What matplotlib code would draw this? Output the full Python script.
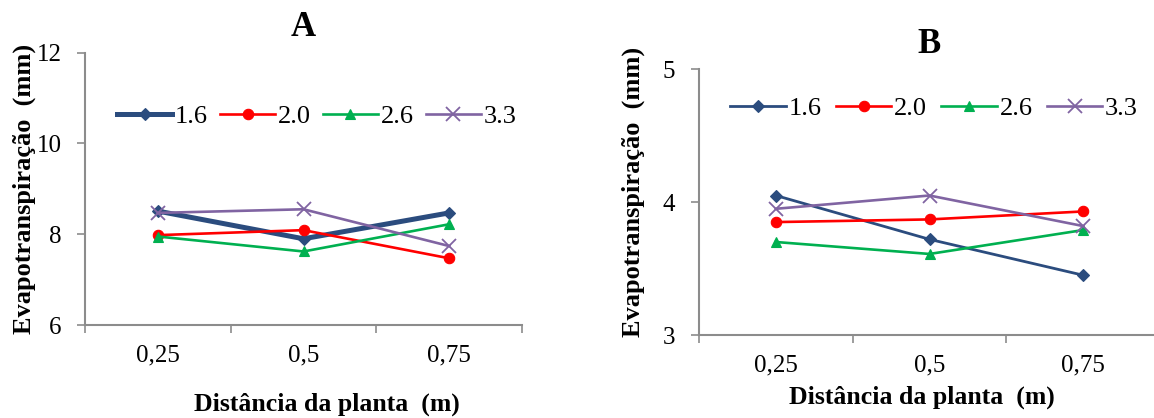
import matplotlib
matplotlib.use("Agg")
import matplotlib.pyplot as plt

plt.rcParams["font.family"] = ["Liberation Serif", "DejaVu Serif"]

distances = ["0,25", "0,5", "0,75"]
series_names = ["1.6", "2.0", "2.6", "3.3"]

# Painel A
et_a = {
    "1.6": [8.51, 7.90, 8.47],
    "2.0": [7.98, 8.09, 7.47],
    "2.6": [7.95, 7.62, 8.22],
    "3.3": [8.47, 8.55, 7.74],
}
# Painel B
et_b = {
    "1.6": [4.05, 3.72, 3.45],
    "2.0": [3.85, 3.87, 3.93],
    "2.6": [3.70, 3.61, 3.79],
    "3.3": [3.95, 4.05, 3.82],
}

colors = {"1.6": "#2B4C7E", "2.0": "#FF0000", "2.6": "#00B050", "3.3": "#8064A2"}
markers = {"1.6": "D", "2.0": "o", "2.6": "^", "3.3": "x"}
msizes = {"1.6": 6, "2.0": 7.5, "2.6": 7.5, "3.3": 10}
AXIS_GRAY = "#8C8C8C"

W, H = 1154, 418


def px_axes(fig, left, bottom, right, top):
    """Axes a partir de coordenadas em pixels (origem no canto superior esquerdo)."""
    return fig.add_axes([left / W, 1 - bottom / H, (right - left) / W, (bottom - top) / H])


def draw_panel(ax, data, yticks, title, blue_lw):
    x = list(range(len(distances)))
    for name in series_names:
        lw = blue_lw if name == "1.6" else 1.9
        ax.plot(x, data[name], color=colors[name], marker=markers[name],
                markersize=msizes[name], linewidth=lw,
                markeredgewidth=1.3 if name == "3.3" else 0.8,
                label=name, clip_on=False)

    ax.set_xlim(-0.5, len(distances) - 0.5)
    ax.set_ylim(yticks[0], yticks[-1])
    ax.set_yticks(yticks)
    ax.set_yticklabels([str(t) for t in yticks])

    # ticks nas fronteiras das categorias, rótulos no centro
    ax.set_xticks([i - 0.5 for i in range(len(distances) + 1)])
    ax.set_xticklabels([])
    ax.set_xticks(x, minor=True)
    ax.set_xticklabels(distances, minor=True)
    ax.tick_params(axis="x", which="major", direction="out", length=6,
                   width=1.2, color=AXIS_GRAY)
    ax.tick_params(axis="x", which="minor", length=0, pad=14, labelsize=18)
    ax.tick_params(axis="y", direction="out", length=6, width=1.2,
                   color=AXIS_GRAY, labelsize=18, pad=11)

    for side in ("top", "right"):
        ax.spines[side].set_visible(False)
    for side in ("left", "bottom"):
        ax.spines[side].set_color(AXIS_GRAY)
        ax.spines[side].set_linewidth(1.5)

    ax.set_title(title, fontsize=25, fontweight="bold", pad=12)
    ax.set_ylabel("Evapotranspiração  (mm)", fontsize=19, fontweight="bold")
    ax.set_xlabel("Distância da planta  (m)", fontsize=18.5, fontweight="bold")


def add_legend(ax, anchor, col_space):
    ax.legend(loc="center left", bbox_to_anchor=anchor, ncol=4,
              frameon=False, fontsize=19, handlelength=2.1,
              handletextpad=0.1, columnspacing=col_space, borderaxespad=0,
              borderpad=0)


fig = plt.figure(figsize=(W / 100, H / 100), dpi=100)

ax_a = px_axes(fig, 85, 325, 522, 52.7)
draw_panel(ax_a, et_a, [6, 8, 10, 12], "A", 3.6)
ax_a.yaxis.set_label_coords(-0.112, 0.50)
ax_a.xaxis.set_label_coords(0.554, -0.25)
add_legend(ax_a, (0.073, 0.765), 0.45)

ax_b = px_axes(fig, 699, 335, 1160, 69.3)
draw_panel(ax_b, et_b, [3, 4, 5], "B", 2.0)
ax_b.yaxis.set_label_coords(-0.117, 0.54)
ax_b.xaxis.set_label_coords(0.483, -0.19)
add_legend(ax_b, (0.068, 0.853), 0.55)

fig.savefig("out.png", dpi=100)
